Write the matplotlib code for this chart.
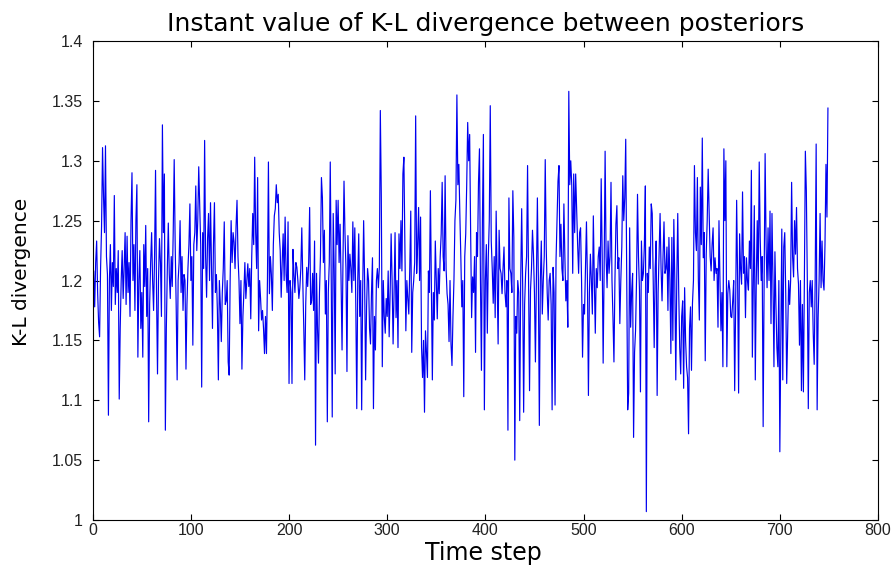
import numpy as np
import matplotlib
matplotlib.use("Agg")
import matplotlib.pyplot as plt

kl_divergence = [
    1.195, 1.208, 1.178, 1.215, 1.233, 1.19, 1.165, 1.153, 1.21, 1.245,
    1.311, 1.27, 1.24, 1.3125, 1.22, 1.205, 1.0875, 1.2, 1.23, 1.175,
    1.215, 1.195, 1.271, 1.18, 1.21, 1.19, 1.225, 1.101, 1.16, 1.2,
    1.225, 1.185, 1.21, 1.24, 1.18, 1.237, 1.19, 1.215, 1.17, 1.25,
    1.29, 1.2, 1.23, 1.175, 1.25, 1.28, 1.136, 1.2, 1.225, 1.16,
    1.19, 1.136, 1.23, 1.195, 1.246, 1.17, 1.21, 1.082, 1.18, 1.215,
    1.24, 1.2, 1.175, 1.22, 1.292, 1.19, 1.122, 1.2, 1.235, 1.215,
    1.17, 1.33, 1.24, 1.289, 1.075, 1.16, 1.21, 1.248, 1.205, 1.185,
    1.22, 1.195, 1.24, 1.301, 1.23, 1.18, 1.117, 1.2, 1.215, 1.25,
    1.19, 1.22, 1.175, 1.205, 1.2, 1.126, 1.18, 1.21, 1.23, 1.264,
    1.2, 1.22, 1.146, 1.23, 1.24, 1.279, 1.225, 1.25, 1.295, 1.264,
    1.23, 1.111, 1.24, 1.21, 1.317, 1.22, 1.186, 1.235, 1.256, 1.2,
    1.265, 1.21, 1.16, 1.23, 1.265, 1.19, 1.205, 1.175, 1.117, 1.2,
    1.18, 1.149, 1.19, 1.21, 1.249, 1.18, 1.183, 1.2, 1.132, 1.121,
    1.2, 1.25, 1.215, 1.24, 1.232, 1.21, 1.245, 1.267, 1.22, 1.2,
    1.164, 1.2, 1.126, 1.17, 1.19, 1.215, 1.185, 1.2, 1.214, 1.195,
    1.21, 1.168, 1.22, 1.256, 1.23, 1.303, 1.24, 1.21, 1.286, 1.158,
    1.2, 1.185, 1.167, 1.175, 1.16, 1.139, 1.17, 1.139, 1.2, 1.299,
    1.189, 1.22, 1.205, 1.175, 1.23, 1.254, 1.26, 1.28, 1.265, 1.272,
    1.24, 1.225, 1.186, 1.215, 1.239, 1.2, 1.253, 1.205, 1.19, 1.249,
    1.114, 1.2, 1.19, 1.114, 1.226, 1.205, 1.19, 1.215, 1.211, 1.2,
    1.185, 1.194, 1.21, 1.244, 1.2, 1.161, 1.117, 1.18, 1.211, 1.195,
    1.215, 1.261, 1.18, 1.183, 1.206, 1.175, 1.233, 1.0625, 1.206, 1.16,
    1.131, 1.19, 1.22, 1.286, 1.269, 1.215, 1.242, 1.172, 1.2, 1.082,
    1.19, 1.215, 1.299, 1.2, 1.086, 1.256, 1.21, 1.122, 1.267, 1.23,
    1.267, 1.215, 1.247, 1.2, 1.142, 1.22, 1.283, 1.239, 1.21, 1.124,
    1.2375, 1.2, 1.222, 1.21, 1.19, 1.249, 1.2, 1.244, 1.18, 1.093,
    1.2, 1.239, 1.17, 1.2, 1.092, 1.19, 1.25, 1.2, 1.117, 1.178,
    1.21, 1.2, 1.16, 1.147, 1.19, 1.219, 1.093, 1.17, 1.142, 1.2,
    1.21, 1.194, 1.211, 1.342, 1.27, 1.128, 1.2, 1.17, 1.156, 1.185,
    1.17, 1.208, 1.153, 1.19, 1.239, 1.2, 1.147, 1.19, 1.24, 1.169,
    1.2, 1.144, 1.239, 1.21, 1.25, 1.208, 1.289, 1.303, 1.23, 1.158,
    1.2, 1.185, 1.172, 1.21, 1.258, 1.14, 1.19, 1.2, 1.215, 1.3375,
    1.206, 1.23, 1.261, 1.2, 1.253, 1.144, 1.119, 1.15, 1.09, 1.158,
    1.14, 1.119, 1.208, 1.19, 1.275, 1.2, 1.117, 1.19, 1.167, 1.233,
    1.2, 1.168, 1.21, 1.189, 1.22, 1.239, 1.282, 1.22, 1.208, 1.2875,
    1.21, 1.189, 1.18, 1.149, 1.2, 1.147, 1.129, 1.17, 1.2, 1.25,
    1.267, 1.355, 1.28, 1.297, 1.256, 1.22, 1.178, 1.2, 1.103, 1.22,
    1.239, 1.28, 1.332, 1.3, 1.322, 1.24, 1.169, 1.203, 1.19, 1.22,
    1.14, 1.24, 1.22, 1.282, 1.31, 1.2, 1.125, 1.25, 1.322, 1.092,
    1.2, 1.23, 1.156, 1.22, 1.25, 1.346, 1.233, 1.21, 1.181, 1.22,
    1.169, 1.258, 1.2, 1.147, 1.242, 1.21, 1.206, 1.189, 1.21, 1.228,
    1.19, 1.178, 1.2, 1.075, 1.269, 1.21, 1.206, 1.19, 1.275, 1.236,
    1.05, 1.17, 1.156, 1.2, 1.19, 1.083, 1.2, 1.26, 1.197, 1.09,
    1.18, 1.206, 1.22, 1.296, 1.2, 1.108, 1.192, 1.21, 1.242, 1.222,
    1.19, 1.132, 1.2, 1.269, 1.2, 1.079, 1.2, 1.233, 1.172, 1.2,
    1.22, 1.301, 1.228, 1.19, 1.167, 1.2, 1.206, 1.18, 1.092, 1.211,
    1.19, 1.096, 1.217, 1.25, 1.283, 1.296, 1.22, 1.247, 1.21, 1.2,
    1.264, 1.22, 1.183, 1.2, 1.161, 1.358, 1.28, 1.3, 1.28, 1.206,
    1.289, 1.24, 1.289, 1.258, 1.23, 1.206, 1.24, 1.244, 1.2, 1.136,
    1.18, 1.172, 1.21, 1.249, 1.2, 1.104, 1.19, 1.222, 1.2, 1.172,
    1.254, 1.2, 1.156, 1.21, 1.194, 1.22, 1.228, 1.2, 1.285, 1.222,
    1.131, 1.21, 1.308, 1.22, 1.194, 1.233, 1.206, 1.22, 1.282, 1.2,
    1.169, 1.132, 1.2, 1.247, 1.2625, 1.21, 1.219, 1.164, 1.2, 1.228,
    1.2875, 1.25, 1.269, 1.318, 1.2, 1.092, 1.106, 1.244, 1.161, 1.19,
    1.206, 1.069, 1.14, 1.158, 1.2, 1.272, 1.22, 1.192, 1.107, 1.233,
    1.2, 1.206, 1.23, 1.279, 1.007, 1.206, 1.19, 1.228, 1.21, 1.264,
    1.256, 1.2, 1.144, 1.21, 1.233, 1.104, 1.19, 1.222, 1.256, 1.21,
    1.183, 1.22, 1.249, 1.206, 1.21, 1.228, 1.175, 1.236, 1.2, 1.139,
    1.236, 1.15, 1.251, 1.2, 1.117, 1.2, 1.256, 1.19, 1.144, 1.122,
    1.17, 1.183, 1.11, 1.194, 1.15, 1.128, 1.119, 1.072, 1.16, 1.178,
    1.125, 1.181, 1.2, 1.296, 1.24, 1.225, 1.286, 1.2, 1.167, 1.278,
    1.23, 1.319, 1.219, 1.24, 1.133, 1.222, 1.25, 1.293, 1.258, 1.22,
    1.208, 1.23, 1.244, 1.2, 1.219, 1.206, 1.21, 1.161, 1.25, 1.2,
    1.158, 1.19, 1.128, 1.31, 1.25, 1.3, 1.128, 1.189, 1.2, 1.192,
    1.17, 1.169, 1.183, 1.2, 1.108, 1.18, 1.267, 1.2, 1.106, 1.239,
    1.21, 1.197, 1.274, 1.206, 1.22, 1.169, 1.219, 1.2, 1.192, 1.233,
    1.21, 1.292, 1.136, 1.2, 1.2625, 1.117, 1.2, 1.25, 1.197, 1.299,
    1.236, 1.2, 1.22, 1.078, 1.2, 1.306, 1.23, 1.194, 1.244, 1.2,
    1.258, 1.164, 1.256, 1.2, 1.128, 1.224, 1.18, 1.144, 1.128, 1.2,
    1.057, 1.15, 1.243, 1.117, 1.228, 1.24, 1.19, 1.114, 1.156, 1.2,
    1.18, 1.2, 1.282, 1.22, 1.203, 1.25, 1.222, 1.261, 1.21, 1.197,
    1.146, 1.2, 1.108, 1.18, 1.107, 1.2, 1.308, 1.275, 1.2, 1.093,
    1.19, 1.2, 1.178, 1.2, 1.156, 1.13, 1.2, 1.314, 1.092, 1.169,
    1.2, 1.256, 1.194, 1.233, 1.2, 1.192, 1.23, 1.297, 1.253, 1.344,
]
time_step = np.arange(len(kl_divergence))

x_ticks = [0, 100, 200, 300, 400, 500, 600, 700, 800]
y_ticks = [1, 1.05, 1.1, 1.15, 1.2, 1.25, 1.3, 1.35, 1.4]
y_tick_labels = ["1", "1.05", "1.1", "1.15", "1.2", "1.25", "1.3", "1.35", "1.4"]

title_text = "Instant value of K-L divergence between posteriors"
x_label = "Time step"
y_label = "K-L divergence"

plt.rcParams['font.family'] = ['Liberation Sans', 'DejaVu Sans']

fig = plt.figure(figsize=(8.95, 5.70), dpi=100)
ax = fig.add_axes([0.1036, 0.0877, 0.8774, 0.8403])

ax.plot(time_step, kl_divergence, color='#0000f0', linewidth=0.85)

ax.set_xlim(0, 800)
ax.set_ylim(1.0, 1.4)
ax.set_xticks(x_ticks)
ax.set_xticklabels([str(t) for t in x_ticks])
ax.set_yticks(y_ticks)
ax.set_yticklabels(y_tick_labels)

ax.tick_params(direction='in', top=True, right=True, length=4.5, width=0.8,
               labelsize=11.5, labelcolor='#222222')
ax.tick_params(axis='y', pad=7)
ax.tick_params(axis='x', pad=2)
for s in ax.spines.values():
    s.set_linewidth(0.8)

ax.set_title(title_text, fontsize=18, family='DejaVu Sans', pad=7)
ax.set_xlabel(x_label, fontsize=17, family='DejaVu Sans')
ax.set_ylabel(y_label, fontsize=14.5, family='DejaVu Sans')
ax.xaxis.set_label_coords(0.497, -0.043)
ax.yaxis.set_label_coords(-0.078, 0.518)

fig.savefig("out.png", dpi=100)
